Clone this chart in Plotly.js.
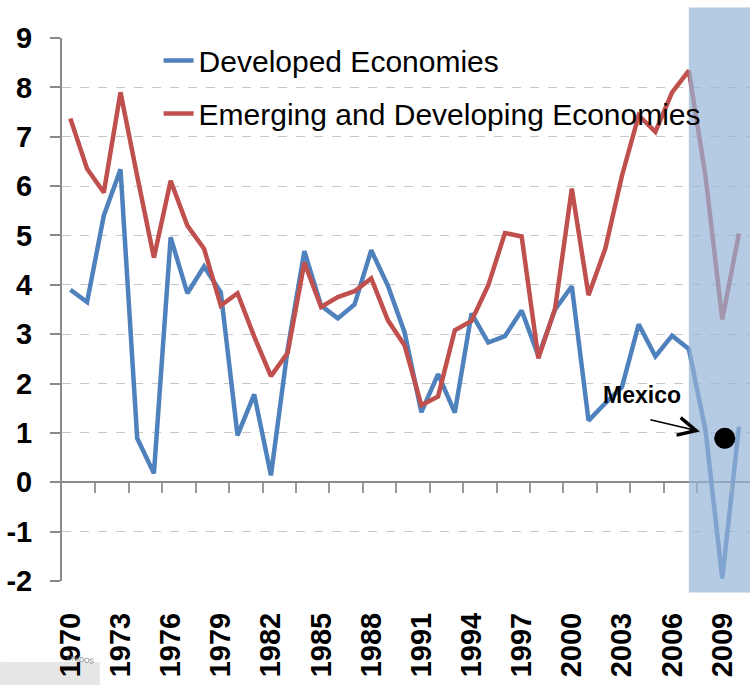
<!DOCTYPE html>
<html>
<head>
<meta charset="utf-8">
<script src="https://cdn.plot.ly/plotly-3.0.1.min.js"></script>
<style>html,body{margin:0;padding:0;background:#fff;}#chart{width:750px;height:685px;}</style>
</head>
<body>
<div id="chart"></div>
<script>
var years = [];
for (var yr = 1970; yr <= 2010; yr++) years.push(yr);

var developed = [3.9, 3.65, 5.4, 6.34, 0.89, 0.18, 4.96, 3.83, 4.37, 3.85,
                 0.95, 1.78, 0.14, 2.7, 4.68, 3.58, 3.32, 3.6, 4.7, 3.98,
                 3.03, 1.42, 2.19, 1.41, 3.42, 2.83, 2.96, 3.48, 2.56, 3.5,
                 3.97, 1.25, 1.6, 1.93, 3.2, 2.55, 2.97, 2.7, 1.05, -1.95, 1.13];

var emerging = [7.37, 6.35, 5.87, 7.9, 6.2, 4.55, 6.11, 5.2, 4.73, 3.58,
                3.83, 2.95, 2.15, 2.62, 4.45, 3.55, 3.75, 3.87, 4.13, 3.28,
                2.77, 1.56, 1.74, 3.08, 3.27, 3.99, 5.05, 4.98, 2.51, 3.52,
                5.95, 3.79, 4.73, 6.21, 7.43, 7.1, 7.9, 8.34, 6.2, 3.3, 5.04];

var mexicoYear = [2009.15];
var mexicoValue = [0.89];

var xTickVals = [1970, 1973, 1976, 1979, 1982, 1985, 1988, 1991, 1994, 1997, 2000, 2003, 2006, 2009];
var xTickText = ["1970", "1973", "1976", "1979", "1982", "1985", "1988", "1991", "1994", "1997", "2000", "2003", "2006", "2009"];
var xBoundaryTicks = [1971.5, 1973.5, 1975.5, 1977.5, 1979.5, 1981.5, 1983.5, 1985.5, 1987.5, 1989.5,
                      1991.5, 1993.5, 1995.5, 1997.5, 1999.5, 2001.5, 2003.5, 2005.5, 2007.5, 2009.5];
var yTickVals = [-2, -1, 0, 1, 2, 3, 4, 5, 6, 7, 8, 9];
var yTickText = ["-2", "-1", "0", "1", "2", "3", "4", "5", "6", "7", "8", "9"];

var ARIAL = '"Liberation Sans", Arial, sans-serif';

var traces = [
  {
    x: years, y: developed, type: 'scatter', mode: 'lines',
    name: 'Developed Economies', legendgroup: 'a',
    line: {color: '#4F81BD', width: 4.5}
  },
  {
    x: years, y: emerging, type: 'scatter', mode: 'lines',
    name: 'Emerging and Developing Economies', legendgroup: 'b',
    line: {color: '#C0504D', width: 4.5}
  },
  {
    x: mexicoYear, y: mexicoValue, type: 'scatter', mode: 'markers',
    name: 'Mexico', showlegend: false,
    marker: {color: '#000', size: 21}
  },
  {
    x: [], y: [], xaxis: 'x2', yaxis: 'y', type: 'scatter', mode: 'lines',
    showlegend: false, hoverinfo: 'skip'
  }
];

var xr = [1969.5, 2010.66];

var layout = {
  width: 750, height: 685,
  margin: {l: 62, r: 0, t: 38, b: 104, pad: 0},
  paper_bgcolor: '#ffffff', plot_bgcolor: 'rgba(0,0,0,0)',
  showlegend: true,
  legend: {
    x: 0.1404, y: 1.0065, xanchor: 'left', yanchor: 'top',
    bgcolor: 'rgba(0,0,0,0)', borderwidth: 0,
    font: {family: ARIAL, size: 30, color: '#000'},
    traceorder: 'grouped', tracegroupgap: 11,
    itemwidth: 30
  },
  xaxis: {
    range: xr, showgrid: false, zeroline: false, showline: false,
    tickmode: 'array', tickvals: xTickVals, ticktext: xTickText,
    tickangle: -90, ticks: '', ticklabelstandoff: 25,
    tickfont: {family: ARIAL, size: 29, color: '#000', weight: 'bold'}
  },
  xaxis2: {
    range: xr, overlaying: 'x', anchor: 'free', position: 2 / 11,
    showgrid: false, zeroline: false, showline: false,
    tickmode: 'array', tickvals: xBoundaryTicks, showticklabels: false,
    ticks: 'outside', ticklen: 10, tickwidth: 2, tickcolor: '#9a9a9a'
  },
  yaxis: {
    range: [-2, 9], tickmode: 'array', tickvals: yTickVals, ticktext: yTickText,
    showgrid: true, gridcolor: '#c8c8c8', gridwidth: 1, griddash: 'dash',
    zeroline: true, zerolinecolor: '#8a8a8a', zerolinewidth: 2,
    showline: true, linecolor: '#8a8a8a', linewidth: 2,
    ticks: 'outside', ticklen: 10, tickwidth: 2, tickcolor: '#8a8a8a',
    ticklabelstandoff: 12,
    tickfont: {family: ARIAL, size: 29, color: '#000', weight: 'bold'}
  },
  shapes: [
    {
      type: 'rect', xref: 'x', yref: 'paper', layer: 'above',
      x0: 2007, x1: 2012, y0: -0.021, y1: 1.056,
      fillcolor: 'rgb(149,179,215)', opacity: 0.7, line: {width: 0}
    },
    {
      type: 'circle', xref: 'x', yref: 'y', layer: 'above',
      xsizemode: 'pixel', ysizemode: 'pixel',
      xanchor: mexicoYear[0], yanchor: mexicoValue[0],
      x0: -10.5, x1: 10.5, y0: -10.5, y1: 10.5,
      fillcolor: '#000', line: {width: 0}
    },
    {
      type: 'rect', xref: 'paper', yref: 'paper', layer: 'below',
      x0: -0.09, x1: 0.055, y0: -0.192, y1: -0.149,
      fillcolor: '#e6e6e6', line: {width: 0}
    }
  ],
  annotations: [
    {
      x: 2004.2, y: 1.76, xref: 'x', yref: 'y', text: '<b>Mexico</b>',
      showarrow: false, font: {family: ARIAL, size: 23, color: '#000'}
    },
    {
      x: 2007.66, y: 1.03, xref: 'x', yref: 'y', text: '',
      showarrow: true, ax: -51, ay: -12, arrowhead: 5, arrowsize: 2.2,
      arrowwidth: 1.6, arrowcolor: '#000'
    },
    {
      x: 0.004, y: -0.158, xref: 'paper', yref: 'paper', text: 'UNIDOS',
      showarrow: false, xanchor: 'left', yanchor: 'bottom', textangle: 8,
      font: {family: ARIAL, size: 7, color: '#777'}
    }
  ]
};

Plotly.newPlot('chart', traces, layout, {displayModeBar: false, staticPlot: true});
</script>
</body>
</html>
